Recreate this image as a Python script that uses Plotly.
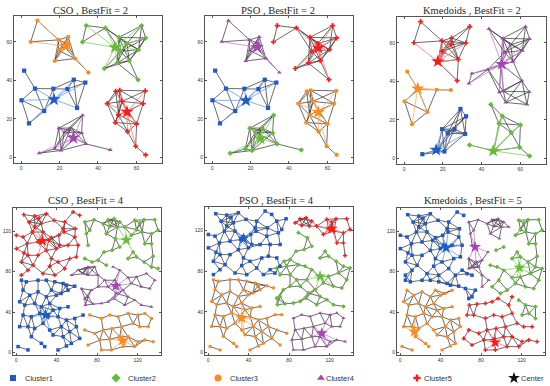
import math
import plotly.graph_objects as go

W, H = 550, 386

# ---------------- top-row network (three labelings) ----------------
top_x = [8.5, 5, 19.5, 24.5, 24.2, 19.5, 17.5, 28, 35,
         33.9, 31.9, 43.8, 50.9, 62.7, 64.8, 61.1, 56.3, 50, 43.3, 60.8, 51.8, 55,
         1.6, 7.2, 0.2, 4.1, 12, 16.8, 24.1, 27.4, 33.4, 29.1,
         49.2, 51.3, 64.6, 44.8, 63.5, 50.7, 49, 60.1, 55.4, 59.6, 64.8, 52.5,
         32, 19.6, 26, 31.5, 17.3, 20.8, 9.4, 33.8, 46.4, 22.5]
top_y = [71, 60, 61, 62.5, 59, 55.5, 50, 51.3, 44,
         68.4, 59.9, 67.2, 62.3, 68.4, 62, 55.9, 50.2, 49, 46.1, 40.3, 55, 59,
         45, 35.7, 29.6, 17.6, 24, 35.6, 35.4, 40.3, 38.8, 25.6,
         34.3, 34.8, 34.5, 27.9, 27.9, 22, 18, 17.3, 13.3, 5.7, 1.2, 29,
         21.8, 15.1, 15.2, 12.6, 4.3, 3.5, 2.1, 6.9, 3.8, 13]
top_lab_cso = [3, 3, 3, 3, 3, 3, 3, 3, 3,
               2, 2, 2, 2, 2, 2, 2, 2, 2, 2, 2, 2, 2,
               1, 1, 1, 1, 1, 1, 1, 1, 1, 1,
               5, 5, 5, 5, 5, 5, 5, 5, 5, 5, 5, 5,
               4, 4, 4, 4, 4, 4, 4, 4, 4, 4]
top_lab_pso = [4, 4, 4, 4, 4, 4, 4, 4, 4,
               5, 5, 5, 5, 5, 5, 5, 5, 5, 5, 5, 5, 5,
               1, 1, 1, 1, 1, 1, 1, 1, 1, 1,
               3, 3, 3, 3, 3, 3, 3, 3, 3, 3, 3, 3,
               2, 2, 2, 2, 2, 2, 2, 2, 2, 2]
top_lab_km = [5, 5, 5, 5, 5, 5, 5, 5, 4,
              5, 5, 4, 4, 4, 4, 4, 4, 4, 4, 4, 4, 4,
              3, 3, 3, 3, 3, 3, 3, 5, 4, 1,
              4, 4, 4, 2, 4, 2, 2, 2, 2, 2, 2, 4,
              1, 1, 1, 1, 1, 1, 1, 2, 2, 1]
# centers for clusters 1..5
top_cen_cso = [(17.1, 30), (48.8, 57.1), (23.2, 57.7), (27.2, 10), (55.1, 23.5)]
top_cen_pso = [(17.6, 29.5), (25.2, 9.7), (55.3, 23.4), (23.5, 57.2), (55.3, 56.8)]
top_cen_km = [(16.5, 4.3), (46, 3.8), (7, 36.2), (50.4, 48.9), (17.4, 50.3)]

# ---------------- bottom-row network (three labelings) ----------------
bot_x = [7.6, 18.4, 22.7, 29.9, 25, 16.1, 26.6, 0.3, 6.9, 11.2, 21.7, 32.2, 34.9, 42.1, 47.4, 48, 56.3, 62.8,
         67.8, 77, 72.7, 69.4, 58.6, 51.3, 61.2, 71.1, 43.1, 39.8, 0.3, 11.8, 21.7, 5.3, 16.8, 11.8, 5.3,
         34.9, 41.4, 53, 59.5, 67.8, 33.2, 48, 26.6, 38.2, 54.6, 61.2, 46.4, 37.5, 12.8, 18.4, 7.9, 71, 66,
         29.9, 57.9,
         85.9, 90.8, 96.7, 102.3, 107.2, 100, 92.4, 117.1, 122, 126.3, 136.8, 140.1, 133.6, 124.3, 118.8,
         113.8, 127, 133.6, 135.2,
         89.1, 98, 102.3, 94.7, 86.8, 80.9, 77.6, 75, 67.8, 71, 80.9, 89.1, 95.7, 102.3, 110.5, 115.5, 118.8,
         126.3, 133.6, 140.1, 128.6, 118.8, 110.5, 113.8, 123.7, 131.9, 136.8, 105.6, 99, 90.8, 80.9, 74.3,
         71, 67.8, 68.4, 76, 84.2, 90.8, 96.7, 110.5, 117.1, 123.7, 133.6, 107.2, 87.5, 97.4,
         5.3, 10.2, 21.7, 29.9, 38.2, 46.4, 49.7, 57.9, 64.5, 6.9, 13.5, 21.7, 29.9, 34.9, 39.8, 44.4, 51.3,
         3.6, 8.6, 18.4, 25, 33.2, 36.5, 43.1, 51.3, 6.9, 15.1, 23.4, 31.6, 41.4, 49.7, 57.9, 66.1, 72.7,
         3.6, 11.8, 18.4, 26.6, 33.2, 44.7, 52.9, 59.5, 67.8, 77.6, 15.1, 25, 36.5, 46.4, 54.6, 62.8, 2,
         11.8, 28.3, 41.4, 49.7, 71,
         84.2, 92.4, 100.7, 110.5, 120.4, 127, 133.6, 130.3, 122, 115.5, 104, 94.7, 85.9, 82.6, 92.4, 102.3,
         110.5, 120.4, 127, 135.2, 117.1, 105.6, 94.1, 84.2]
bot_y = [136.4, 135, 133, 137.3, 127.5, 119.2, 119.2, 116, 114.3, 107.7, 109.4, 111, 113.7, 116, 119.2, 129.1,
         139, 135.7, 129.1, 131.4, 120.9, 117.6, 122.5, 106.1, 106.1, 106.1, 106.1, 102.8, 102.8, 96.2, 96.2,
         89.6, 86.3, 81.4, 76.5, 92.9, 89.6, 92.9, 94.6, 92.9, 85.4, 83, 78.1, 76.5, 76.5, 81.4, 122.5, 130.8,
         129.1, 124.2, 98.5, 84.7, 78, 101, 114.3,
         127.5, 131.4, 132.4, 129.1, 124.2, 124.2, 124.8, 130.8, 128.1, 131.4, 131.4, 120.9, 117.6, 119.2,
         121.6, 116, 107.7, 107.7, 95.2,
         117.6, 112.7, 104.4, 101.2, 99.5, 91.3, 84.7, 89.6, 83, 76.5, 76.5, 86.3, 84.7, 81.4, 92.9, 99.5,
         94.6, 89.6, 84.7, 83, 78.1, 74.8, 74.2, 68.3, 65, 63.3, 71.5, 61.7, 58.4, 65, 65, 61.7, 55.1, 53.4,
         46.9, 47.9, 48.5, 50.2, 53.4, 55.1, 51.8, 46.9, 45.2, 46.9, 71.5, 71.5,
         71.5, 69.9, 71.5, 71.5, 69.9, 68.3, 66.6, 65.6, 63.3, 61.7, 56.7, 60, 55.1, 61.7, 56.7, 58.4, 61.7,
         50.2, 46.9, 48.5, 45.2, 48.5, 41.9, 43.6, 45.2, 37, 35.4, 38.7, 35.4, 35.4, 32.1, 33.7, 37, 37,
         25.5, 25.5, 23.8, 28.8, 22.2, 25.5, 20.6, 25.5, 22.2, 18.9, 15.6, 9, 17.3, 15.6, 9, 13.9, 5.8,
         2.5, 5.8, 2.5, 6.4, 7.4,
         33.7, 37, 35.4, 38.7, 37, 38.7, 33.7, 25.5, 25.5, 28.8, 25.5, 23.8, 22.2, 12.3, 13, 15.6,
         15.6, 10.7, 12.3, 10.7, 5.8, 5.8, 2.5, 2.5]
bot_lab_cso = [5, 5, 5, 5, 5, 5, 5, 5, 5, 5, 5, 5, 5, 5, 5, 5, 5, 5,
               2, 2, 2, 2, 5, 5, 5, 2, 5, 5, 5, 5, 5, 5, 5, 5, 5,
               5, 5, 5, 5, 2, 5, 5, 5, 5, 4, 4, 5, 5, 5, 5, 5, 4, 4,
               5, 5,
               2, 2, 2, 2, 2, 2, 2, 2, 2, 2, 2, 2, 2, 2, 2,
               2, 2, 2, 2,
               2, 2, 2, 2, 2, 2, 4, 2, 4, 4, 4, 2, 4, 4, 2, 2, 2,
               2, 2, 2, 4, 4, 4, 4, 4, 4, 4, 4, 4, 4, 4, 4, 4, 4,
               4, 4, 4, 4, 4, 4, 4, 4, 4, 4, 4, 4,
               1, 1, 1, 1, 1, 1, 1, 1, 4, 1, 1, 1, 1, 1, 1, 1, 1,
               1, 1, 1, 1, 1, 1, 1, 1, 1, 1, 1, 1, 1, 1, 1, 1, 3,
               1, 1, 1, 1, 1, 1, 1, 1, 3, 3, 1, 1, 1, 1, 1, 1, 1,
               1, 1, 1, 1, 3,
               3, 3, 3, 3, 3, 3, 3, 3, 3, 3, 3, 3, 3, 3, 3, 3,
               3, 3, 3, 3, 3, 3, 3, 3]
bot_lab_pso = [1, 1, 1, 1, 1, 1, 1, 1, 1, 1, 1, 1, 1, 1, 1, 1, 1, 1,
               1, 1, 1, 1, 1, 1, 1, 1, 1, 1, 1, 1, 1, 1, 1, 1, 1,
               1, 1, 1, 1, 1, 1, 1, 1, 1, 1, 1, 1, 1, 1, 1, 1, 1, 1,
               1, 1,
               5, 5, 5, 5, 5, 5, 5, 5, 5, 5, 5, 5, 5, 5, 5,
               5, 5, 5, 5,
               2, 2, 2, 2, 2, 2, 2, 2, 2, 2, 2, 2, 2, 2, 2, 2, 2,
               2, 2, 2, 2, 2, 2, 2, 2, 2, 2, 2, 2, 2, 2, 2, 2, 2,
               2, 2, 2, 2, 2, 2, 2, 2, 2, 2, 2, 2,
               3, 3, 3, 3, 3, 3, 3, 3, 3, 3, 3, 3, 3, 3, 3, 3, 3,
               3, 3, 3, 3, 3, 3, 3, 3, 3, 3, 3, 3, 3, 3, 3, 3, 3,
               3, 3, 3, 3, 3, 3, 3, 3, 3, 3, 3, 3, 3, 3, 3, 3, 3,
               3, 3, 3, 3, 3,
               4, 4, 4, 4, 4, 4, 4, 4, 4, 4, 4, 4, 4, 4, 4, 4,
               4, 4, 4, 4, 4, 4, 4, 4]
bot_lab_km = [1, 1, 1, 1, 1, 1, 1, 1, 1, 1, 1, 1, 1, 1, 1, 1, 1, 1,
              4, 4, 4, 4, 1, 1, 1, 4, 1, 1, 1, 1, 1, 1, 1, 1, 1,
              1, 1, 1, 1, 4, 1, 1, 1, 1, 1, 1, 1, 1, 1, 1, 1, 4, 1,
              1, 1,
              4, 4, 4, 4, 4, 4, 4, 2, 2, 2, 2, 2, 2, 2, 2,
              2, 2, 2, 2,
              4, 4, 2, 2, 4, 4, 4, 4, 4, 1, 4, 2, 2, 2, 2, 2, 2,
              2, 2, 2, 2, 2, 2, 2, 2, 2, 2, 2, 2, 2, 4, 1, 1, 1,
              5, 5, 5, 5, 5, 5, 2, 2, 2, 5, 4, 2,
              1, 1, 1, 1, 1, 1, 1, 1, 1, 3, 3, 3, 3, 3, 3, 3, 3,
              3, 3, 3, 3, 3, 3, 3, 3, 3, 3, 3, 3, 3, 3, 3, 5, 5,
              3, 3, 3, 3, 3, 3, 3, 3, 5, 5, 3, 3, 3, 3, 3, 5, 3,
              3, 3, 3, 3, 5,
              5, 5, 5, 5, 2, 2, 2, 5, 5, 5, 5, 5, 5, 5, 5, 5,
              5, 5, 5, 5, 5, 5, 5, 5]
bot_cen_cso = [(29.2, 37.2), (108.8, 111.2), (104.9, 11.8), (98.4, 65.8), (26, 110.5)]
bot_cen_pso = [(35, 112), (110.5, 74.8), (33.2, 33.7), (112.2, 18.9), (122, 121.6)]
bot_cen_km = [(45.4, 103.5), (117.8, 84), (14.1, 20.6), (74, 104.4), (93.8, 10)]

titles = ["CSO , BestFit = 2", "PSO , BestFit = 2", "Kmedoids , BestFit = 2",
          "CSO , BestFit = 4", "PSO , BestFit = 4", "Kmedoids , BestFit = 5"]
legend_names = ["Cluster1", "Cluster2", "Cluster3", "Cluster4", "Cluster5", "Center"]

# ---------------- styles ----------------
colors = {1: "#1E5AC8", 2: "#62BD35", 3: "#FF8A1C", 4: "#A545B5", 5: "#FF1A1A"}
light = {1: "#6FA3E6", 2: "#8CD36A", 3: "#FFB466", 4: "#C98AD6", 5: "#FF7B7B"}
symbols = {1: "square", 2: "diamond", 3: "circle", 4: "triangle-up", 5: "cross"}

# panel frames in pixels: (left, right, top, bottom)
frames = [(14, 162, 16, 163), (205, 353, 16, 163), (397, 546, 17, 164),
          (13, 161, 208, 355), (205, 353, 207, 355), (397, 545, 208, 355)]
title_cx = [90, 278, 472, 86, 276, 473]

panels = [
    (top_x, top_y, top_lab_cso, top_cen_cso, "top"),
    (top_x, top_y, top_lab_pso, top_cen_pso, "top"),
    (top_x, top_y, top_lab_km, top_cen_km, "top"),
    (bot_x, bot_y, bot_lab_cso, bot_cen_cso, "bot"),
    (bot_x, bot_y, bot_lab_pso, bot_cen_pso, "bot"),
    (bot_x, bot_y, bot_lab_km, bot_cen_km, "bot"),
]

fig = go.Figure()


def axis_names(k):
    return ("x" if k == 1 else f"x{k}"), ("y" if k == 1 else f"y{k}")


for idx, (xs, ys, labs, cens, kind) in enumerate(panels):
    k = idx + 1
    xa, ya = axis_names(k)
    R = 15.0 if kind == "top" else 13.0
    Rc = 20.0 if kind == "top" else 17.0
    msize = 4.2 if kind == "top" else 3.5
    ssize = 10 if kind == "top" else 9
    # black links between nodes of the same cluster within range
    ex, ey = [], []
    n = len(xs)
    for i in range(n):
        for j in range(i + 1, n):
            if labs[i] == labs[j] and math.hypot(xs[i] - xs[j], ys[i] - ys[j]) <= R:
                ex += [xs[i], xs[j], None]
                ey += [ys[i], ys[j], None]
    fig.add_trace(go.Scatter(x=ex, y=ey, mode="lines", xaxis=xa, yaxis=ya,
                             line=dict(color="rgba(30,30,30,0.88)", width=0.75),
                             hoverinfo="skip", showlegend=False))
    # coloured links from each center to its members
    for c in range(1, 6):
        cx, cy = cens[c - 1]
        lx, ly = [], []
        for i in range(n):
            if labs[i] == c and math.hypot(xs[i] - cx, ys[i] - cy) <= Rc:
                lx += [cx, xs[i], None]
                ly += [cy, ys[i], None]
        fig.add_trace(go.Scatter(x=lx, y=ly, mode="lines", xaxis=xa, yaxis=ya,
                                 line=dict(color=light[c], width=0.85),
                                 hoverinfo="skip", showlegend=False))
    # nodes
    for c in range(1, 6):
        px = [xs[i] for i in range(n) if labs[i] == c]
        py = [ys[i] for i in range(n) if labs[i] == c]
        fig.add_trace(go.Scatter(x=px, y=py, mode="markers", xaxis=xa, yaxis=ya,
                                 marker=dict(color=colors[c], symbol=symbols[c], size=msize,
                                             line=dict(width=0)),
                                 showlegend=False))
    # centers
    for c in range(1, 6):
        cx, cy = cens[c - 1]
        fig.add_trace(go.Scatter(x=[cx], y=[cy], mode="markers", xaxis=xa, yaxis=ya,
                                 marker=dict(color=colors[c], symbol="star", size=ssize,
                                             line=dict(width=0)),
                                 showlegend=False))

layout = dict(width=W, height=H, margin=dict(l=0, r=0, t=0, b=0),
              plot_bgcolor="rgba(0,0,0,0)", paper_bgcolor="white", showlegend=False)

for idx in range(6):
    k = idx + 1
    l, r, t, b = frames[idx]
    top = idx < 3
    xr = [-3.7, 73.3] if top else [-3, 143]
    yr = [-3, 73.4] if top else [-2.5, 143]
    tv = [0, 20, 40, 60] if top else [0, 40, 80, 120]
    common = dict(showline=True, mirror="ticks", linecolor="#555555", linewidth=0.8,
                  ticks="inside", ticklen=2.5, tickcolor="#555555", tickwidth=0.8,
                  tickfont=dict(family="Liberation Sans", size=5, color="#333333"),
                  showgrid=False, zeroline=False, tickvals=tv, fixedrange=True)
    xkey = "xaxis" if k == 1 else f"xaxis{k}"
    ykey = "yaxis" if k == 1 else f"yaxis{k}"
    layout[xkey] = dict(domain=[l / W, r / W], range=xr, anchor=axis_names(k)[1], **common)
    layout[ykey] = dict(domain=[1 - b / H, 1 - t / H], range=yr, anchor=axis_names(k)[0], **common)

# legend strip axis below the panels (pixel coordinates)
strip_top = 364
layout["xaxis7"] = dict(domain=[0, 1], range=[0, W], visible=False, fixedrange=True, anchor="y7")
layout["yaxis7"] = dict(domain=[0, 1 - strip_top / H], range=[H, strip_top], visible=False,
                        fixedrange=True, anchor="x7")

leg_mx = [13, 116, 218, 321, 417, 514]
leg_tx = [23, 126, 228, 324, 422, 519]
leg_y = 378
leg_cols = [colors[1], colors[2], colors[3], colors[4], colors[5], "#111111"]
leg_sym = [symbols[1], symbols[2], symbols[3], symbols[4], symbols[5], "star"]
leg_sz = [6, 7, 7, 7, 6, 9]
for i in range(6):
    fig.add_trace(go.Scatter(x=[leg_mx[i]], y=[leg_y], mode="markers", xaxis="x7", yaxis="y7",
                             marker=dict(color=leg_cols[i], symbol=leg_sym[i], size=leg_sz[i],
                                         line=dict(width=0)),
                             hoverinfo="skip", showlegend=False))

annotations = []
for i in range(6):
    annotations.append(dict(x=leg_tx[i] / W, y=1 - leg_y / H, xref="paper", yref="paper",
                            text=legend_names[i], showarrow=False, xanchor="left", yanchor="middle",
                            font=dict(family="Liberation Sans", size=7.5, color="#333333")))
for idx in range(6):
    ty = 11 if idx < 3 else 201
    annotations.append(dict(x=title_cx[idx] / W, y=1 - ty / H, xref="paper", yref="paper",
                            text=titles[idx], showarrow=False, xanchor="center", yanchor="middle",
                            font=dict(family="Liberation Serif", size=10.5, color="#2a2a2a")))
layout["annotations"] = annotations

fig.update_layout(**layout)
fig.write_html("out.html", config={"displayModeBar": False},
               post_script="document.body.style.margin='0';")
